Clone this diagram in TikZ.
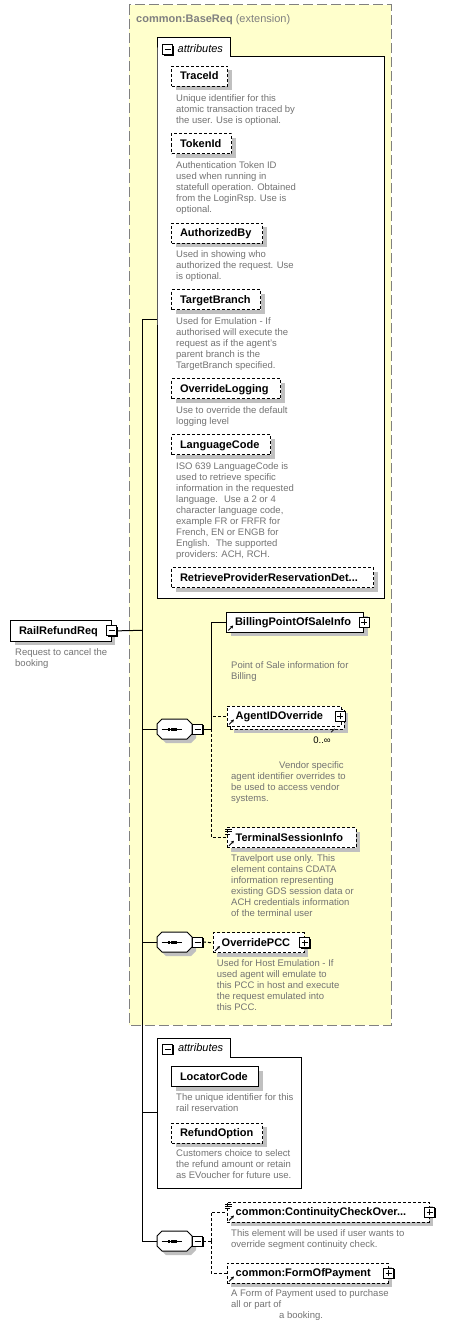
\documentclass[tikz,border=0pt]{standalone}
\usepackage{fontspec}
\setmainfont{Liberation Sans}
\usetikzlibrary{shadows,arrows.meta,calc}
\definecolor{yel}{HTML}{FFFFCC}
\definecolor{bordgrey}{HTML}{808080}
\definecolor{descgrey}{HTML}{737373}
\definecolor{shgrey}{HTML}{C0C0C0}
\tikzset{
  x=1pt, y=-1pt,
  elembase/.style={rectangle, draw=black, fill=white, line width=1pt, anchor=north west,
    minimum height=20pt, inner xsep=8.5pt, inner ysep=0pt, align=left,
    text height=8.5pt, text depth=1.5pt,
    font=\bfseries\fontsize{11}{13}\selectfont},
  elem/.style={elembase, general shadow={fill=shgrey, shadow xshift=4pt, shadow yshift=-4pt}},
  opt/.style={dash pattern=on 3pt off 2pt},
  desc/.style={anchor=north west, inner sep=0pt, align=left, text=descgrey,
    font=\fontsize{9.5}{11}\selectfont, execute at begin node=\rule{0pt}{8pt}},
  iconbox/.style={rectangle, draw=black, fill=white, line width=1pt, minimum size=10pt,
    inner sep=0pt, general shadow={fill=black, shadow xshift=1pt, shadow yshift=-1pt}},
  minusbox/.style={iconbox, path picture={\draw[line width=1pt]
    ([xshift=-3pt]path picture bounding box.center) -- ([xshift=3pt]path picture bounding box.center);}},
  plusbox/.style={iconbox, path picture={\draw[line width=1pt]
    ([xshift=-3pt]path picture bounding box.center) -- ([xshift=3pt]path picture bounding box.center)
    ([yshift=-3pt]path picture bounding box.center) -- ([yshift=3pt]path picture bounding box.center);}},
  conn/.style={line width=1pt},
  dconn/.style={line width=1pt, dash pattern=on 3pt off 2pt},
  refar/.style={line width=0.9pt, -{Stealth[length=3pt,width=3.2pt]}},
  attrtitle/.style={anchor=west, inner sep=0pt, font=\itshape\fontsize{11}{13}\selectfont},
}
\newcommand\seqsym[3]{%
  \begin{scope}[shift={(#2,#3)}]
    \fill[shgrey] (9,-6) -- (34,-6) -- (39,-1) -- (39,9) -- (34,14) -- (9,14) -- (4,9) -- (4,-1) -- cycle;
    \draw[fill=white, line width=1pt] (5,-10) -- (30,-10) -- (35,-5) -- (35,5) -- (30,10) -- (5,10) -- (0,5) -- (0,-5) -- cycle;
    \draw[line width=1pt] (4.5,0) -- (24.5,0);
    \fill (10.6,-1.5) rectangle (13.2,1.5);
    \fill (13.9,-1.5) rectangle (16.5,1.5);
    \fill (17.2,-1.5) rectangle (19.8,1.5);
    \node[inner sep=0pt, minimum width=35pt, minimum height=20pt] (#1) at (17.5,0) {};
    \node[minusbox] (#1m) at (40.5,0) {};
  \end{scope}}
\newcommand\refmark[1]{%
  \draw[refar] ([shift={(2.3,-2.3)}]#1.south west) -- ([shift={(7.2,-7.2)}]#1.south west);}
\newcommand\simplemark[1]{%
  \draw[line width=0.8pt] ([shift={(-1.5,2.3)}]#1.north west) -- ([shift={(5,2.3)}]#1.north west)
    ([shift={(-1.5,4.6)}]#1.north west) -- ([shift={(5,4.6)}]#1.north west)
    ([shift={(-1.5,6.9)}]#1.north west) -- ([shift={(3.5,6.9)}]#1.north west);}
\begin{document}
\begin{tikzpicture}
\useasboundingbox (0,0) rectangle (456,1327);
\fill[white] (0,0) rectangle (456,1327);
% extension region
\draw[fill=yel, draw=bordgrey, line width=1pt, dash pattern=on 10pt off 4pt] (129,5) rectangle (391,1025);
\node[anchor=base west, inner sep=0pt, text=bordgrey, font=\fontsize{11}{13}\selectfont] (hdr) at (136,23)
  {\textbf{common:BaseReq} (extension)};
% attributes group 1
\draw[fill=white, line width=1pt] (157,57) -- (157,38) -- (230,38) -- (230,57) -- (384,57) -- (384,598) -- (157,598) -- cycle;
\node[minusbox] (a1m) at (167.5,50) {};
\node[attrtitle] (a1t) at (177.5,49) {attributes};
\coordinate (a1in) at (157,319);
\node[elem, opt, text width=39pt] (traceid) at (171,66) {TraceId};
\node[desc] (traceidd) at (176,94) {Unique identifier for this\\atomic transaction traced by\\the user. Use is optional.};
\node[elem, opt, text width=43pt] (tokenid) at (171,133) {TokenId};
\node[desc] (tokenidd) at (176,161) {Authentication Token ID\\used when running in\\statefull operation. Obtained\\from the LoginRsp. Use is\\optional.};
\node[elem, opt, text width=74pt] (authby) at (171,222.7) {AuthorizedBy};
\node[desc] (authbyd) at (176,250) {Used in showing who\\authorized the request. Use\\is optional.};
\node[elem, opt, text width=72pt] (tbranch) at (171,289) {TargetBranch};
\node[desc] (tbranchd) at (176,317) {Used for Emulation - If\\authorised will execute the\\request as if the agent's\\parent branch is the\\TargetBranch specified.};
\node[elem, opt, text width=92pt] (ovlog) at (171,378) {OverrideLogging};
\node[desc] (ovlogd) at (176,406) {Use to override the default\\logging level};
\node[elem, opt, text width=82pt] (lang) at (171,434) {LanguageCode};
\node[desc] (langd) at (176,462) {ISO 639 LanguageCode is\\used to retrieve specific\\information in the requested\\language.~ Use a 2 or 4\\character language code,\\example FR or FRFR for\\French, EN or ENGB for\\English.~ The supported\\providers: ACH, RCH.};
\node[elem, opt, text width=185pt] (retr) at (171,567) {RetrieveProviderReservationDet...};
% root
\node[elem, text width=83.5pt, minimum height=20.7pt] (rr) at (10,620) {RailRefundReq};
\node[minusbox] (rrm) at (rr.east) {};
\node[desc] (rrd) at (15,648) {Request to cancel the\\booking};
% trunk
\coordinate (tA) at (142,319);
\coordinate (tR) at (142,630.3);
\coordinate (tS1) at (142,729);
\coordinate (tS2) at (142,942);
\coordinate (tA2) at (142,1112.7);
\coordinate (tS3) at (142,1241);
\draw[conn] (tA) -- (tS3);
\draw[conn] (tA) -- (a1in);
\draw[conn] (rrm.east) -- (tR);
% sequence 1
\seqsym{seqa}{157}{729}
\draw[conn] (tS1) -- (seqa.west);
\coordinate (sa) at (211,729);
\node[elem, text width=120pt] (bill) at (226,611.7) {BillingPointOfSaleInfo};
\node[elem, opt, text width=97pt] (agentb) at (229.7,708.7) {\phantom{AgentIDOverride}};
\node[elembase, opt, text width=97pt] (agent) at (226.7,705.7) {AgentIDOverride};
\node[elem, opt, text width=112pt] (term) at (226.7,827) {TerminalSessionInfo};
\draw[conn] (seqam.east) -- (sa) |- (bill.west);
\draw[dconn] (sa) |- (agent.west);
\draw[dconn] (sa) |- (term.west);
\node[plusbox] (billp) at (bill.east) {};
\node[plusbox] (agentp) at ([xshift=-1.5pt]agent.east) {};
\refmark{bill}
\refmark{agent}
\refmark{term}
\simplemark{term}
\draw[line width=0.8pt] ([shift={(-10,-1)}]agentb.south east) -- ([shift={(-13.5,2.5)}]agentb.south east);
\node[inner sep=0pt, font=\fontsize{9.5}{11}\selectfont] (agento) at (322,740) {0..∞};
\node[desc] (billd) at (231,661) {Point of Sale information for\\Billing};
\node[desc] (agentd) at (231,761) {\hspace*{48pt}Vendor specific\\agent identifier overrides to\\be used to access vendor\\systems.};
\node[desc] (termd) at (231,854.5) {Travelport use only. This\\element contains CDATA\\information representing\\existing GDS session data or\\ACH credentials information\\of the terminal user};
% sequence 2
\seqsym{seqb}{157}{942}
\draw[conn] (tS2) -- (seqb.west);
\node[elem, opt, text width=74pt] (pcc) at (212.7,932.3) {OverridePCC};
\draw[dconn] (seqbm.east) -- (pcc.west);
\node[plusbox] (pccp) at (pcc.east) {};
\refmark{pcc}
\node[desc] (pccd) at (216.7,959.5) {Used for Host Emulation - If\\used agent will emulate to\\this PCC in host and execute\\the request emulated into\\this PCC.};
% attributes group 2
\draw[fill=white, line width=1pt] (157.3,1057.3) -- (157.3,1038.3) -- (230,1038.3) -- (230,1057.3) -- (301.7,1057.3) -- (301.7,1188.3) -- (157.3,1188.3) -- cycle;
\node[minusbox] (a2m) at (167.8,1049) {};
\node[attrtitle] (a2t) at (177.8,1048) {attributes};
\coordinate (a2in) at (157.3,1112.7);
\draw[conn] (tA2) -- (a2in);
\node[elem, text width=70pt] (loc) at (171,1066) {LocatorCode};
\node[desc] (locd) at (176,1093.5) {The unique identifier for this\\rail reservation};
\node[elem, opt, text width=74pt] (refund) at (171,1122.7) {RefundOption};
\node[desc] (refundd) at (176,1149.5) {Customers choice to select\\the refund amount or retain\\as EVoucher for future use.};
% sequence 3
\seqsym{seqc}{157}{1241}
\draw[conn] (tS3) -- (seqc.west);
\coordinate (sc) at (211,1241);
\node[elem, opt, text width=185pt] (cont) at (226.7,1201.7) {common:ContinuityCheckOver...};
\node[elem, opt, text width=144pt] (fop) at (226.7,1262.7) {common:FormOfPayment};
\draw[dconn] (seqcm.east) -- (sc);
\draw[dconn] (sc) |- (cont.west);
\draw[dconn] (sc) |- (fop.west);
\node[plusbox] (contp) at (cont.east) {};
\node[plusbox] (fopp) at (fop.east) {};
\refmark{cont}
\refmark{fop}
\simplemark{cont}
\node[desc] (contd) at (231,1229) {This element will be used if user wants to\\override segment continuity check.};
\node[desc] (fopd) at (231,1289.5) {A Form of Payment used to purchase\\all or part of\\\hspace*{48pt}a booking.};
\end{tikzpicture}
\end{document}
